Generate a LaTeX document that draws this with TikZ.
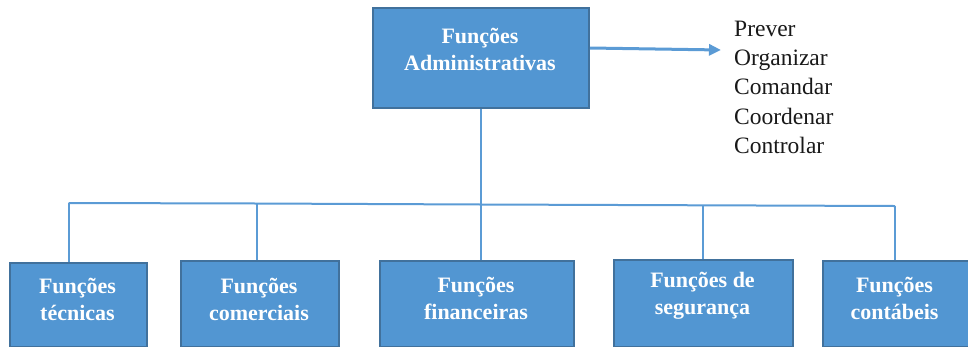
\documentclass[tikz,border=0pt]{standalone}
\usepackage{fontspec}
\setmainfont{Liberation Serif}
\usetikzlibrary{arrows.meta}
\definecolor{boxfill}{HTML}{5296D2}
\definecolor{boxedge}{HTML}{41719C}
\definecolor{linecol}{HTML}{5B9BD5}
\tikzset{
  funcbox/.style={draw=boxedge, line width=2pt, fill=boxfill, inner sep=0pt},
  boxtext/.style={text=white, font=\fontsize{22}{27}\selectfont\bfseries, align=center, inner sep=0pt},
  listtext/.style={text=black!90, font=\fontsize{23.5}{29}\selectfont, anchor=base west, inner sep=0pt},
  conn/.style={draw=linecol, line width=2pt},
  arrowconn/.style={draw=linecol, line width=3pt, -{Triangle[length=12pt,width=11pt]}}
}
\begin{document}
\begin{tikzpicture}[x=1pt,y=-1pt]
\useasboundingbox (0,0) rectangle (968,346);
\clip (0,0) rectangle (968,346);
% top box
\node[funcbox, anchor=north west, minimum width=216pt, minimum height=100pt] (top) at (372,7) {};
\node[boxtext] (toptxt) at (480,49.5) {Funções\\Administrativas};
% list
\coordinate (arrowend) at (721,50);
\draw[arrowconn] (top.east |- 0,48) -- (arrowend);
\node[listtext] (l1) at (734,36) {Prever};
\node[listtext] (l2) at (734,65) {Organizar};
\node[listtext] (l3) at (734,94.5) {Comandar};
\node[listtext] (l4) at (734,124) {Coordenar};
\node[listtext] (l5) at (734,153) {Controlar};
% bottom boxes
\node[funcbox, anchor=north west, minimum width=137pt, minimum height=84pt] (b1) at (9,262) {};
\node[funcbox, anchor=north west, minimum width=158pt, minimum height=86pt] (b2) at (180,260) {};
\node[funcbox, anchor=north west, minimum width=194pt, minimum height=86pt] (b3) at (379,260) {};
\node[funcbox, anchor=north west, minimum width=179pt, minimum height=87pt] (b4) at (613,259) {};
\node[funcbox, anchor=north west, minimum width=148pt, minimum height=86pt] (b5) at (822,260) {};
\node[boxtext] (t1) at (77.5,299.5) {Funções\\técnicas};
\node[boxtext] (t2) at (259,299) {Funções\\comerciais};
\node[boxtext] (t3) at (476,298) {Funções\\financeiras};
\node[boxtext] (t4) at (702.5,296) {Funções de\\segurança};
\node[boxtext] (t5) at (894.5,298.5) {Funções\\contábeis};
% connectors
\coordinate (j1) at (68.5,203);
\coordinate (j2) at (257,203.5);
\coordinate (j0) at (481,204.5);
\coordinate (j4) at (703,205.3);
\coordinate (j5) at (895,206);
\draw[conn] (j1) -- (j2) -- (j0) -- (j4) -- (j5);
\draw[conn] (top.south -| j0) -- (j0) -- (j0 |- b3.north);
\draw[conn] (j1) -- (j1 |- b1.north);
\draw[conn] (j2) -- (j2 |- b2.north);
\draw[conn] (j4) -- (j4 |- b4.north);
\draw[conn] (j5) -- (j5 |- b5.north);
\end{tikzpicture}
\end{document}
